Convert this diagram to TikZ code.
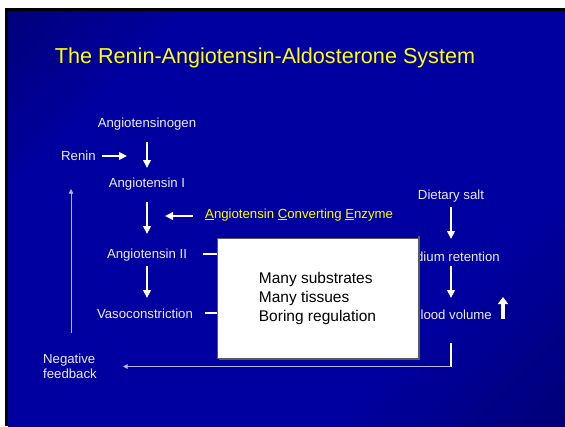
\documentclass[tikz,border=0pt]{standalone}
\usepackage{fontspec}
\setmainfont{Liberation Sans}
\usetikzlibrary{arrows.meta}
\definecolor{bgdark}{RGB}{0,0,86}
\definecolor{bgmid}{RGB}{0,0,160}
\definecolor{txt}{RGB}{236,236,246}
\definecolor{ttl}{RGB}{255,255,0}
\definecolor{fbcol}{RGB}{185,185,222}
\definecolor{boxedge}{RGB}{90,90,90}
\pgfdeclarehorizontalshading{slidebg}{100bp}{color(0bp)=(bgdark); color(28bp)=(bgmid); color(68bp)=(bgmid); color(100bp)=(bgdark)}
\begin{document}
\begin{tikzpicture}[x=1pt,y=-1pt,
  lbl/.style={text=txt, font=\fontsize{13.2}{15}\selectfont, inner sep=0pt, anchor=base},
  acelbl/.style={text=ttl, font=\fontsize{13.2}{15}\selectfont, inner sep=0pt, anchor=base west},
  flowarrow/.style={draw=white, line width=2pt, -{Triangle[width=7.5pt,length=8pt]}},
  bigarrow/.style={draw=white, line width=3.5pt, -{Triangle[width=10pt,length=7pt]}},
  tieline/.style={draw=white, line width=2pt},
  fbline/.style={draw=fbcol, line width=1pt},
  fbarrow/.style={fbline, -{Triangle[width=4.5pt,length=4.5pt]}},
  infobox/.style={fill=white, draw=boxedge, line width=0.8pt, minimum width=201pt, minimum height=120pt,
    inner sep=0pt, align=left, text=black, font=\fontsize{15.5}{19}\selectfont}
]
\useasboundingbox (0,0) rectangle (565,426);
\fill[white] (0,0) rectangle (565,426);
\fill[black] (5,8) rectangle (565,426);
\shade[shading=slidebg, shading angle=-45] (8,11) rectangle (565,426);

\node[text=ttl, font=\fontsize{21.6}{26}\selectfont, inner sep=0pt, anchor=base] (title) at (265,63) {The Renin-Angiotensin-Aldosterone System};

% left column
\node[lbl] (ang) at (147,127) {Angiotensinogen};
\node[lbl, anchor=base west] (renin) at (61,160) {Renin};
\node[lbl] (ang1) at (147,187) {Angiotensin I};
\node[acelbl] (ace) at (205,218) {\underline{A}ngiotensin \underline{C}onverting \underline{E}nzyme};
\node[lbl] (ang2) at (147,258) {Angiotensin II};
\node[lbl] (vaso) at (145,318) {Vasoconstriction};
\node[lbl, anchor=north west, align=left] (neg) at (43,353.5) {Negative\\feedback};

% right column
\node[lbl] (salt) at (451,199) {Dietary salt};
\node[lbl, anchor=base east] (sodium) at (500,261) {Sodium retention};
\node[lbl, anchor=base east] (blood) at (492,319) {Blood volume};

\coordinate (reninend) at (127,156);
\coordinate (aceend) at (165,216);
\coordinate (upstart) at (71,333);
\coordinate (upend) at (71,189);
\coordinate (fbcorner) at (451,366.5);
\coordinate (fbend) at (123,366.5);

% main flow arrows
\draw[flowarrow] ([yshift=-15pt]ang.base) -- ([yshift=19pt]ang1.base);
\draw[flowarrow] ([xshift=6pt,yshift=4pt]renin.base east) -- (reninend);
\draw[flowarrow] ([yshift=-15pt]ang1.base) -- ([yshift=24pt]ang2.base);
\draw[flowarrow] ([xshift=-12pt,yshift=2pt]ace.base west) -- (aceend);
\draw[flowarrow] ([yshift=-8pt]ang2.base) -- ([yshift=20pt]ang2.base |- vaso.base);
\draw[flowarrow] ([yshift=-8pt]salt.base) -- ([yshift=22pt]salt.base |- sodium.base);
\draw[flowarrow] ([yshift=-5pt]salt.base |- sodium.base) -- ([yshift=21pt]salt.base |- blood.base);
\draw[bigarrow] ([xshift=11pt]blood.base east) -- ([xshift=11pt,yshift=22pt]blood.base east);

% feedback
\draw[fbarrow] (upstart) -- (upend);
\draw[draw=white, line width=1.2pt] ([yshift=-24pt]salt.base |- blood.base) -- (fbcorner);
\draw[fbarrow] (fbcorner) -- (fbend);

% ties to box
\node[infobox] (box) at (317.5,298) {Many substrates\\Many tissues\\Boring regulation};
\draw[tieline] ([xshift=16pt,yshift=4pt]ang2.base east) -- ([yshift=4pt]box.west |- ang2.base);
\draw[tieline] ([xshift=12pt,yshift=5pt]vaso.base east) -- ([yshift=5pt]box.west |- vaso.base);
\draw[boxedge, line width=1.5pt] ([xshift=0.8pt,yshift=2pt]box.north east) -- ([xshift=0.8pt,yshift=-0.8pt]box.south east) -- ([xshift=2pt,yshift=-0.8pt]box.south west);
\end{tikzpicture}
\end{document}
